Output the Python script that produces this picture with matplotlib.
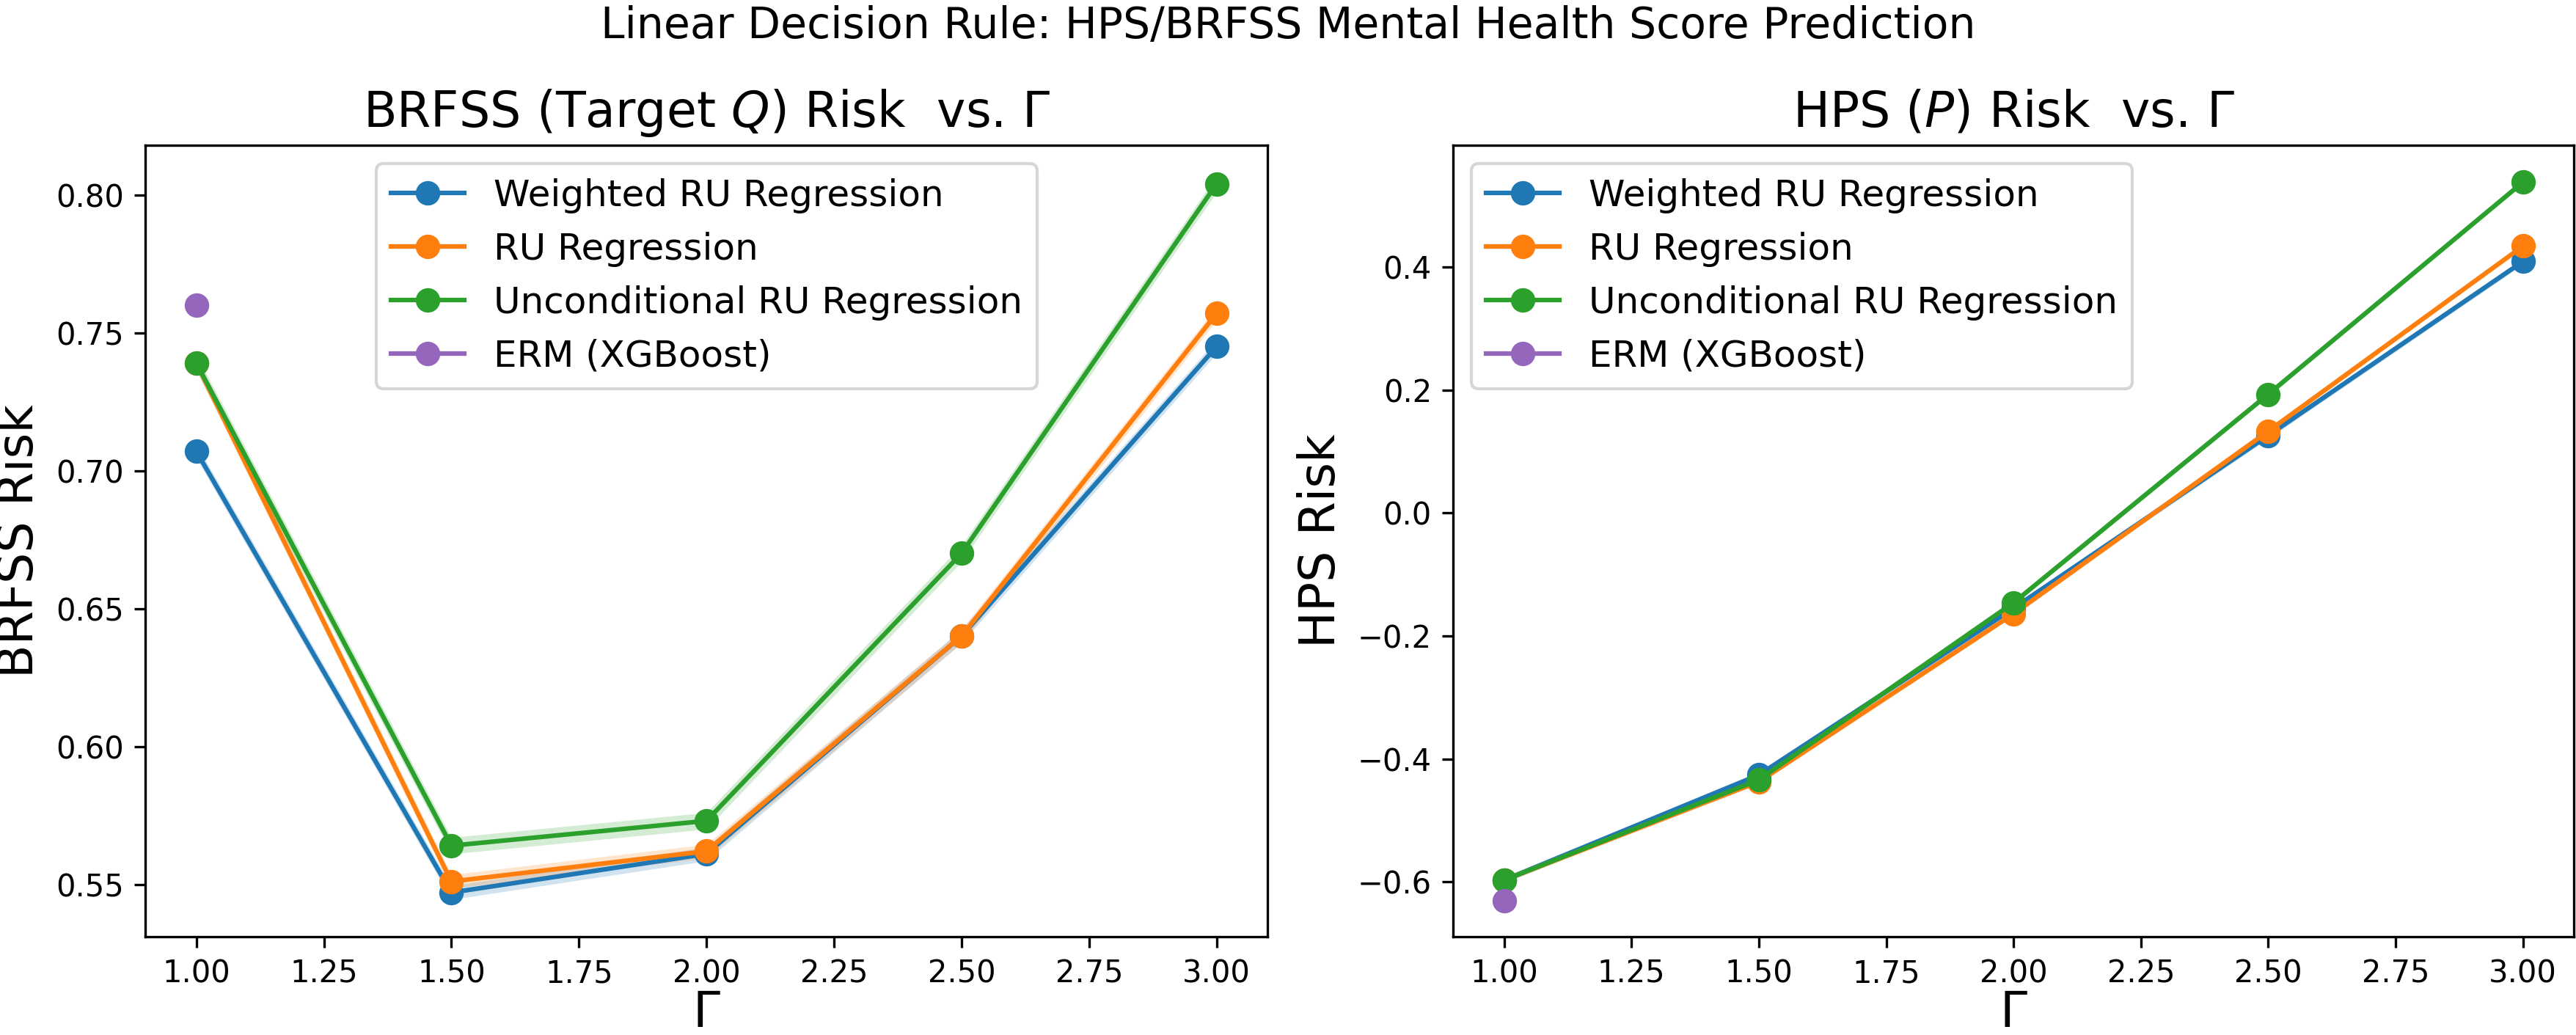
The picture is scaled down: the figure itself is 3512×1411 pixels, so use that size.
import numpy as np
import matplotlib
matplotlib.use('Agg')
import matplotlib.pyplot as plt

gammas = [1.0, 1.5, 2.0, 2.5, 3.0]
labels = ['Weighted RU Regression', 'RU Regression', 'Unconditional RU Regression']
colors = ['#1f77b4', '#ff7f0e', '#2ca02c']
erm_color = '#9467bd'

# BRFSS (target Q) risk
brfss_weighted = [0.707, 0.547, 0.561, 0.640, 0.745]
brfss_ru = [0.739, 0.551, 0.562, 0.640, 0.757]
brfss_uncond = [0.739, 0.564, 0.573, 0.670, 0.804]
brfss_ci = [0.0025, 0.0025, 0.003]   # half width of shaded band
brfss_erm = 0.760

# HPS (P) risk
hps_weighted = [-0.597, -0.426, -0.155, 0.126, 0.409]
hps_ru = [-0.597, -0.437, -0.164, 0.133, 0.434]
hps_uncond = [-0.597, -0.434, -0.146, 0.193, 0.538]
hps_ci = [0.005, 0.004, 0.004]
hps_erm = -0.631

fig = plt.figure(figsize=(3512 / 300, 1411 / 300), dpi=300)
ax1 = fig.add_axes([0.0564, 0.095, 0.4357, 0.7647])
ax2 = fig.add_axes([0.5641, 0.095, 0.4351, 0.7647])

def draw(ax, series, ci, erm, title, ylabel, legend_loc):
    for y, c, lab, w in zip(series, colors, labels, ci):
        y = np.array(y)
        ax.fill_between(gammas, y - w, y + w, color=c, alpha=0.2, linewidth=0)
        ax.plot(gammas, y, marker='o', color=c, lw=1.5, markersize=7, label=lab)
    ax.plot([gammas[0]], [erm], marker='o', color=erm_color, lw=1.5, markersize=7, label='ERM (XGBoost)')
    ax.set_title(title, fontsize=16)
    ax.set_xlabel(r'$\Gamma$', fontsize=16, labelpad=0)
    ax.set_ylabel(ylabel, fontsize=16)
    ax.legend(loc=legend_loc, fontsize=12)

draw(ax1, [brfss_weighted, brfss_ru, brfss_uncond], brfss_ci, brfss_erm,
     r'BRFSS (Target $Q$) Risk  vs. $\Gamma$', 'BRFSS Risk', 'upper center')
draw(ax2, [hps_weighted, hps_ru, hps_uncond], hps_ci, hps_erm,
     r'HPS ($P$) Risk  vs. $\Gamma$', 'HPS Risk', 'upper left')
ax1.set_ylim(0.531, 0.818)
ax2.set_ylim(-0.689, 0.598)

fig.suptitle('Linear Decision Rule: HPS/BRFSS Mental Health Score Prediction', fontsize=14, y=0.995)

fig.savefig('out.png', dpi=300)
